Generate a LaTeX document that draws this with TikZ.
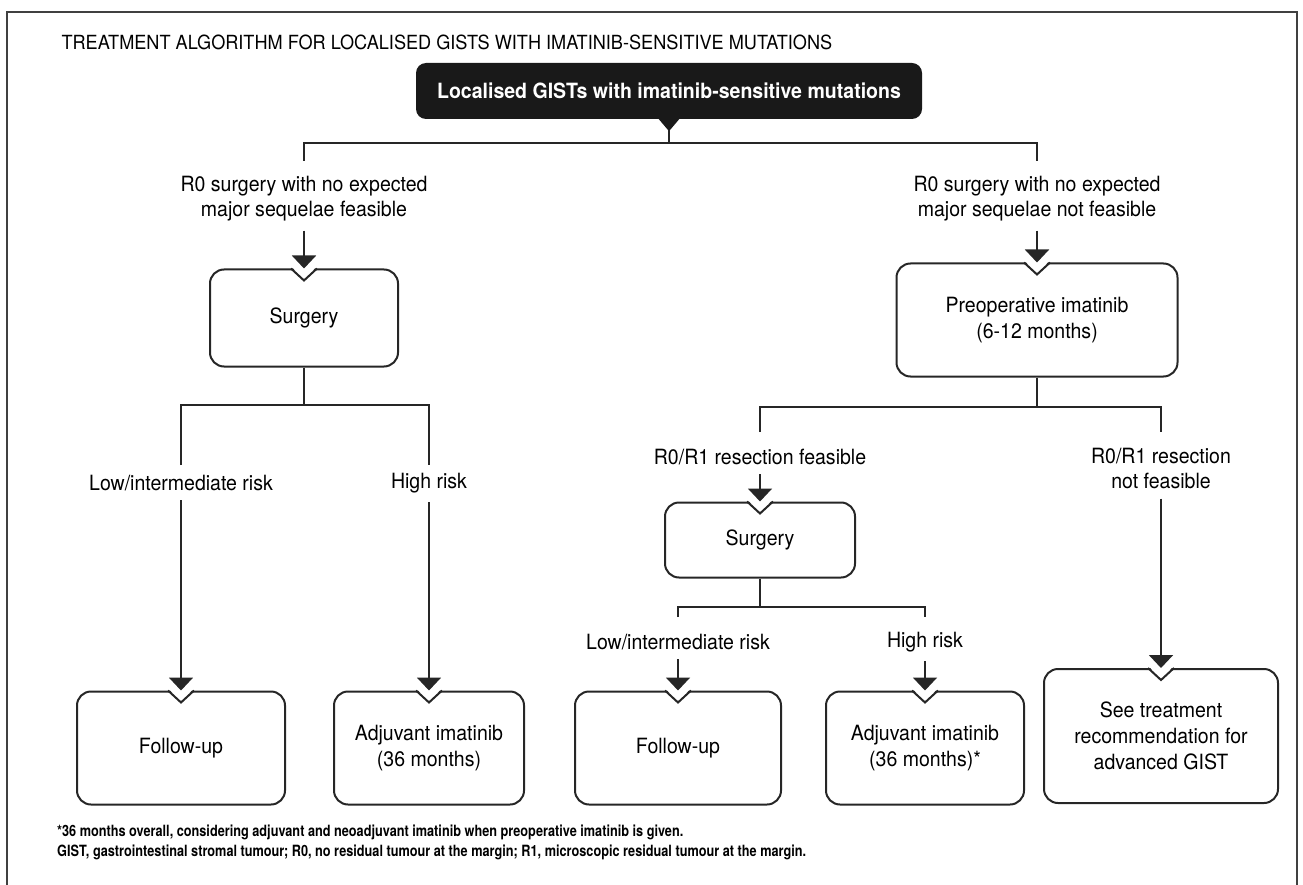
\documentclass[tikz,border=0pt]{standalone}
\usepackage{fontspec}
\usetikzlibrary{arrows.meta}
\setmainfont{TeX Gyre Heros}
\newfontfamily\condfont[FakeStretch=0.93]{TeX Gyre Heros}
\newfontfamily\notefont[FakeStretch=0.82]{TeX Gyre Heros}
\tikzstyle{lineg}=[line width=2pt,black!85]
\tikzstyle{arrg}=[line width=2pt,black!85,-{Triangle[width=24pt,length=13pt]}]
\tikzstyle{boxg}=[draw=black!85,line width=2pt,rounded corners=14pt,align=center,inner sep=0pt,font=\condfont\fontsize{21}{26}\selectfont]
\tikzstyle{labelg}=[align=center,inner sep=0pt,font=\condfont\fontsize{21}{25}\selectfont]
\tikzstyle{headg}=[fill=black!90,rounded corners=10pt,text=white,inner sep=0pt,font=\condfont\bfseries\fontsize{21}{24}\selectfont]
\tikzstyle{noteg}=[anchor=west,inner sep=0pt,font=\notefont\bfseries\fontsize{15.5}{20}\selectfont]

\begin{document}
\begin{tikzpicture}[x=1pt,y=-1pt]
    \useasboundingbox (0,0) rectangle (1303,885);
    \draw[line width=2.5pt,black!75] (7,890) -- (7,12) -- (1297,12) -- (1297,890);

    \node[anchor=west,font=\condfont\fontsize{19.5}{22}\selectfont] (title) at (58,42)
        {TREATMENT ALGORITHM FOR LOCALISED GISTS WITH IMATINIB-SENSITIVE MUTATIONS};
    \node[headg,minimum width=506pt,minimum height=56pt] (top) at (669,91)
        {Localised GISTs with imatinib-sensitive mutations};
    \fill[black!90] ([xshift=-11pt,yshift=1pt]top.south) -- ([xshift=11pt,yshift=1pt]top.south)
        -- ([yshift=-12pt]top.south) -- cycle;

    % left branch
    \node[labelg] (lblA) at (304,199) {R0 surgery with no expected\\major sequelae feasible};
    \node[boxg,minimum width=188pt,minimum height=97pt] (surgA) at (304,318) {Surgery};
    \node[labelg] (lblC) at (181,483) {Low/intermediate risk};
    \node[labelg] (lblD) at (429,483) {High risk};
    \node[boxg,minimum width=208pt,minimum height=113pt] (fuA) at (181,748) {Follow-up};
    \node[boxg,minimum width=190pt,minimum height=113pt] (adjA) at (429,748) {Adjuvant imatinib\\(36 months)};

    % right branch
    \node[labelg] (lblB) at (1037,199) {R0 surgery with no expected\\major sequelae not feasible};
    \node[boxg,minimum width=281pt,minimum height=113pt] (preop) at (1037,320) {Preoperative imatinib\\(6-12 months)};
    \node[labelg] (lblE) at (760,457) {R0/R1 resection feasible};
    \node[labelg] (lblF) at (1161,469) {R0/R1 resection\\not feasible};
    \node[boxg,minimum width=190pt,minimum height=75pt] (surgB) at (760,540) {Surgery};
    \node[labelg] (lblG) at (678,642) {Low/intermediate risk};
    \node[labelg] (lblH) at (925,642) {High risk};
    \node[boxg,minimum width=206pt,minimum height=113pt] (fuB) at (678,748) {Follow-up};
    \node[boxg,minimum width=198pt,minimum height=113pt] (adjB) at (925,748) {Adjuvant imatinib\\(36 months)*};
    \node[boxg,minimum width=234pt,minimum height=134pt] (see) at (1161,736) {See treatment\\recommendation for\\advanced GIST};

    % footnotes
    \node[noteg] (note1) at (57,832)
        {*36 months overall, considering adjuvant and neoadjuvant imatinib when preoperative imatinib is given.};
    \node[noteg] (note2) at (57,852)
        {GIST, gastrointestinal stromal tumour; R0, no residual tumour at the margin; R1, microscopic residual tumour at the margin.};

    % notches
    \foreach \b in {surgA,fuA,adjA,preop,surgB,fuB,adjB,see} {
        \fill[white] ([xshift=-12pt,yshift=1.5pt]\b.north) -- ([xshift=12pt,yshift=1.5pt]\b.north)
            -- ([yshift=-12pt]\b.north) -- cycle;
        \draw[lineg] ([xshift=-13pt]\b.north) -- ([yshift=-12pt]\b.north) -- ([xshift=13pt]\b.north);
    }

    % junctions
    \coordinate (j0) at (669,143);
    \coordinate (dA) at (304,161);
    \coordinate (dB) at (1037,161);
    \coordinate (j1) at (304,405);
    \coordinate (dC) at (181,465);
    \coordinate (dD) at (429,465);
    \coordinate (j2) at (1037,407);
    \coordinate (dE) at (760,432);
    \coordinate (dF) at (1161,432);
    \coordinate (j3) at (760,607);
    \coordinate (dG) at (678,617);
    \coordinate (dH) at (925,617);

    \draw[lineg] ([yshift=-11pt]top.south) -- (j0);
    \draw[lineg] (dA) |- (j0) -| (dB);
    \foreach \from/\to/\a/\b in {surgA/j1/dC/dD,preop/j2/dE/dF,surgB/j3/dG/dH} {
        \draw[lineg] (\from.south) -- (\to);
        \draw[lineg] (\a) |- (\to) -| (\b);
    }

    \foreach \from/\to in {lblA/surgA,lblC/fuA,lblD/adjA,lblB/preop,lblE/surgB,lblG/fuB,lblH/adjB,lblF/see}
    \draw[arrg,shorten <=9pt] (\from.south) -- (\to.north);
\end{tikzpicture}
\end{document}
